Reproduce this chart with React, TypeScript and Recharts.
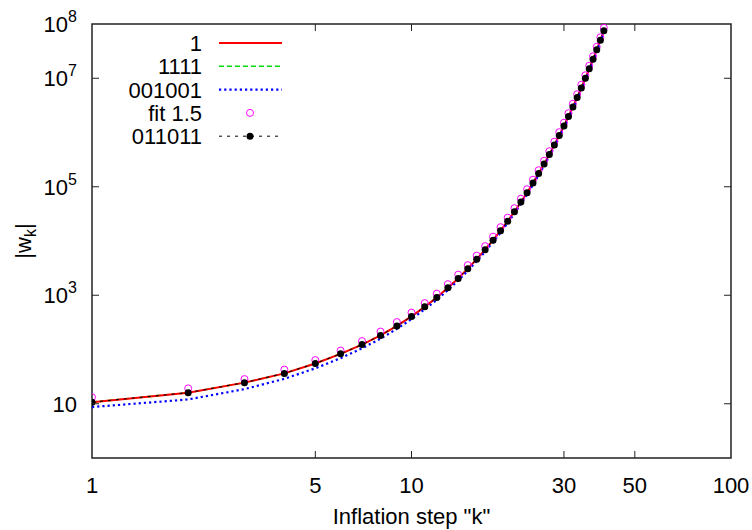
import React from "react";
import { ComposedChart, Line, XAxis, YAxis, Legend, ReferenceArea } from "recharts";

// inflation steps k
const steps = [
  1, 2, 3, 4, 5, 6, 7, 8, 9, 10, 11, 12, 13, 14, 15, 16, 17, 18, 19, 20,
  21, 22, 23, 24, 25, 26, 27, 28, 29, 30, 31, 32, 33, 34, 35, 36, 37, 38, 39, 40,
];

// |w_k| for word "1"
const w1 = [
  10.7, 16.0, 24.5, 36.3, 55.3, 83.2, 123, 182, 272, 407, 611, 912, 1371, 2042,
  3090, 4613, 6918, 10351, 15490, 23230, 34670, 52120, 77620, 1.17e5, 1.754e5,
  2.63e5, 3.93e5, 5.89e5, 8.81e5, 1.318e6, 1.977e6, 2.95e6, 4.44e6, 6.61e6,
  9.95e6, 1.49e7, 2.24e7, 3.34e7, 5.01e7, 7.5e7,
];

// "1111" lies on top of "1"
const w1111 = [
  10.7, 16.0, 24.5, 36.3, 55.3, 83.2, 123, 182, 272, 407, 611, 912, 1371, 2042,
  3090, 4613, 6918, 10351, 15490, 23230, 34670, 52120, 77620, 1.17e5, 1.754e5,
  2.63e5, 3.93e5, 5.89e5, 8.81e5, 1.318e6, 1.977e6, 2.95e6, 4.44e6, 6.61e6,
  9.95e6, 1.49e7, 2.24e7, 3.34e7, 5.01e7, 7.5e7,
];

const w001001 = [
  8.7, 12.0, 18.6, 28.8, 45.0, 69.2, 105, 158, 240, 363, 550, 822, 1245, 1862,
  2818, 4217, 6339, 9550, 14290, 21480, 32210, 48420, 72440, 1.087e5, 1.63e5,
  2.455e5, 3.66e5, 5.5e5, 8.22e5, 1.23e6, 1.845e6, 2.75e6, 4.14e6, 6.17e6,
  9.29e6, 1.39e7, 2.09e7, 3.12e7, 4.68e7, 7.0e7,
];

const fit15 = [
  13.2, 19.2, 28.5, 42.7, 63.8, 95.5, 143, 214, 320, 479, 716, 1072, 1603, 2399,
  3589, 5370, 8035, 12020, 17990, 26920, 40270, 60260, 90160, 1.349e5, 2.018e5,
  3.02e5, 4.52e5, 6.76e5, 1.012e6, 1.514e6, 2.265e6, 3.39e6, 5.07e6, 7.59e6,
  1.135e7, 1.7e7, 2.54e7, 3.8e7, 5.69e7, 8.51e7,
];

const w011011 = [
  10.7, 16.0, 24.5, 36.3, 55.3, 83.2, 123, 182, 272, 407, 611, 912, 1371, 2042,
  3090, 4613, 6918, 10351, 15490, 23230, 34670, 52120, 77620, 1.17e5, 1.754e5,
  2.63e5, 3.93e5, 5.89e5, 8.81e5, 1.318e6, 1.977e6, 2.95e6, 4.44e6, 6.61e6,
  9.95e6, 1.49e7, 2.24e7, 3.34e7, 5.01e7, 7.5e7,
];

const xTicks = [1, 5, 10, 30, 50, 100];
const yTicks = [10, 1e3, 1e5, 1e7, 1e8];

const data = steps.map((k, i) => ({
  k,
  one: w1[i],
  four: w1111[i],
  blue: w001001[i],
  fit: fit15[i],
  black: w011011[i],
}));

const FONT = "'Liberation Sans', Arial, sans-serif";
const AXIS = "#222";
const TICK = 7;

// tick renderers draw the inward tick mark themselves (tickSize is 0,
// so the mark sits tickMargin away from the label anchor)
const YTick = (props: any) => {
  const { x, y, payload } = props;
  const v = payload.value as number;
  const exp = Math.round(Math.log10(v));
  const m = 15;
  return (
    <g>
      {v < 1e8 && <line x1={x + m} x2={x + m + TICK} y1={y} y2={y} stroke={AXIS} strokeWidth={1} />}
      <text x={x} y={y + 8} textAnchor="end" fontFamily={FONT} fontSize={22} fill="#000">
        10
        {exp > 1 && (
          <tspan dy={-10} fontSize={16}>
            {exp}
          </tspan>
        )}
      </text>
    </g>
  );
};

const XTick = (props: any) => {
  const { x, y, payload } = props;
  const m = 19;
  const v = payload.value as number;
  return (
    <g>
      {v > 1 && v < 100 && <line x1={x} x2={x} y1={y - m} y2={y - m - TICK} stroke={AXIS} strokeWidth={1} />}
      <text x={x} y={y} dy="0.72em" textAnchor="middle" fontFamily={FONT} fontSize={22} fill="#000">
        {v}
      </text>
    </g>
  );
};

const TopTick = (props: any) => {
  const { x, y } = props;
  return <line x1={x} x2={x} y1={y + 10} y2={y + 10 + TICK} stroke={AXIS} strokeWidth={1} />;
};

const RightTick = (props: any) => {
  const { x, y } = props;
  return <line x1={x - 10} x2={x - 10 - TICK} y1={y} y2={y} stroke={AXIS} strokeWidth={1} />;
};

const legendRows = [
  { label: "1", color: "#ff0000", dash: undefined, width: 2, kind: "line" },
  { label: "1111", color: "#00dd00", dash: "5 3", width: 1.6, kind: "line" },
  { label: "001001", color: "#0000ff", dash: "2.2 3", width: 2.2, kind: "line" },
  { label: "fit 1.5", color: "#ff00ff", dash: undefined, width: 1, kind: "circle" },
  { label: "011011", color: "#000", dash: "3 5", width: 1, kind: "dotline" },
];

const renderLegend = () => (
  <svg width={300} height={160}>
    {legendRows.map((r, i) => {
      const cy = 43 + i * 23.3;
      return (
        <g key={r.label}>
          <text x={202} y={cy + 8} textAnchor="end" fontFamily={FONT} fontSize={22} fill="#000">
            {r.label}
          </text>
          {r.kind !== "circle" && (
            <line x1={219} x2={282} y1={cy} y2={cy} stroke={r.color} strokeWidth={r.width} strokeDasharray={r.dash} />
          )}
          {r.kind === "circle" && <circle cx={250} cy={cy} r={3.5} fill="none" stroke={r.color} strokeWidth={1} />}
          {r.kind === "dotline" && <circle cx={250} cy={cy} r={3.5} fill="#000" />}
        </g>
      );
    })}
  </svg>
);

export default function App() {
  return (
    <div style={{ position: "fixed", left: 0, top: 0, width: 752, height: 530, background: "#fff" }}>
      <ComposedChart width={752} height={530} data={data} margin={{ top: 23, right: 20, bottom: 0, left: 0 }}>
        <XAxis
          dataKey="k"
          type="number"
          scale="log"
          domain={[1, 100]}
          ticks={xTicks}
          interval={0}
          allowDataOverflow
          height={72}
          axisLine={false}
          tickLine={false}
          tickSize={0}
          tickMargin={19}
          tick={XTick}
          label={{
            content: () => (
              <text x={411.5} y={524} textAnchor="middle" fontFamily={FONT} fontSize={22} fill="#000">
                Inflation step "k"
              </text>
            ),
          }}
        />
        <XAxis
          xAxisId="top"
          orientation="top"
          dataKey="k"
          type="number"
          scale="log"
          domain={[1, 100]}
          ticks={[5, 10, 30, 50]}
          interval={0}
          allowDataOverflow
          height={1}
          axisLine={false}
          tickLine={false}
          tickSize={0}
          tickMargin={10}
          tick={TopTick}
        />
        <YAxis
          type="number"
          scale="log"
          domain={[1, 1e8]}
          ticks={yTicks}
          interval={0}
          allowDataOverflow
          width={92}
          axisLine={false}
          tickLine={false}
          tickSize={0}
          tickMargin={15}
          tick={YTick}
          label={{
            content: () => (
              <text
                transform="translate(31 241) rotate(-90)"
                textAnchor="middle"
                fontFamily={FONT}
                fontSize={22}
                fill="#000"
              >
                |w
                <tspan dy={5} fontSize={16}>
                  k
                </tspan>
                <tspan dy={-5}>|</tspan>
              </text>
            ),
          }}
        />
        <YAxis
          yAxisId="right"
          orientation="right"
          type="number"
          scale="log"
          domain={[1, 1e8]}
          ticks={[10, 1e3, 1e5, 1e7]}
          interval={0}
          allowDataOverflow
          width={1}
          axisLine={false}
          tickLine={false}
          tickSize={0}
          tickMargin={10}
          tick={RightTick}
        />
        <Legend
          layout="horizontal"
          verticalAlign="middle"
          align="center"
          content={renderLegend}
          wrapperStyle={{ position: "absolute", left: 0, top: 0, width: 300, height: 160 }}
        />
        <Line dataKey="four" stroke="#00dd00" strokeWidth={1.6} strokeDasharray="5 3" dot={false} activeDot={false} isAnimationActive={false} />
        <Line dataKey="one" stroke="#ff0000" strokeWidth={2} dot={false} activeDot={false} isAnimationActive={false} />
        <Line dataKey="blue" stroke="#0000ff" strokeWidth={2.2} strokeDasharray="2.2 3" dot={false} activeDot={false} isAnimationActive={false} />
        <Line
          dataKey="fit"
          stroke="none"
          dot={{ r: 3.5, fill: "none", stroke: "#ff00ff", strokeWidth: 1 }}
          activeDot={false}
          isAnimationActive={false}
        />
        <Line
          dataKey="black"
          stroke="#000"
          strokeWidth={1}
          strokeDasharray="3 5"
          dot={{ r: 3.5, fill: "#000", stroke: "#000", strokeWidth: 0 }}
          activeDot={false}
          isAnimationActive={false}
        />
        <ReferenceArea x1={1} x2={100} y1={1} y2={1e8} fill="none" stroke={AXIS} strokeWidth={1.5} />
      </ComposedChart>
    </div>
  );
}
